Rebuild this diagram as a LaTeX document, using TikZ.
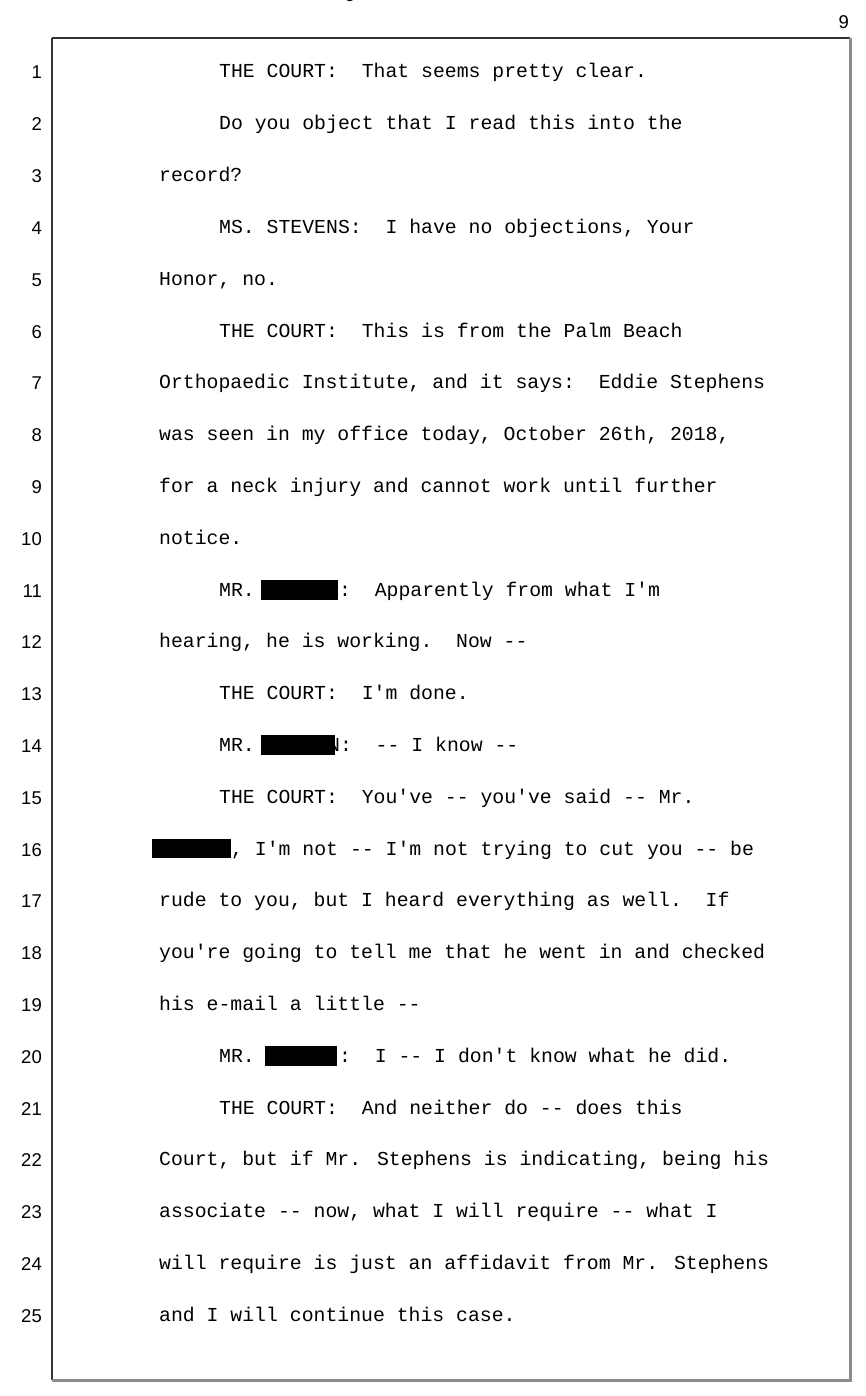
\documentclass[tikz,border=0pt]{standalone}
\usepackage{fontspec}
\setmainfont{Liberation Mono}[Ligatures=TeXOff]
\newfontfamily\numfont{Liberation Sans}[Ligatures=TeXOff]
\begin{document}
\begin{tikzpicture}[x=1pt,y=-1pt,
  tx/.style={anchor=base west,inner sep=0pt,font=\fontsize{19.8}{20}\selectfont},
  num/.style={anchor=base east,inner sep=0pt,font=\numfont\fontsize{18.5}{20}\selectfont},
  red/.style={fill=black,draw=none}]
\useasboundingbox (0,0) rectangle (866,1396);
\node[tx,anchor=base] (hdr) at (433,-2) {Judge Rosemarie Scher};
\node[num] (pg) at (849,29) {9};
\draw[line width=1.2pt,black!80] (52,38) -- (850,38);
\draw[line width=1.2pt,black!80] (52,38) -- (52,1380);
\draw[line width=3pt,black!45] (52,1380) -- (850,1380) -- (850,38);
\foreach \i in {1,...,25}{
  \node[num] (n\i) at (42,{72+51.8*(\i-1)+7}) {\i};
}
\def\L#1#2#3{\node[tx] (t#1) at (#2,{72+51.8*(#1-1)+6}) {#3};}
\L{1}{219}{THE COURT:\ \ That seems pretty clear.}
\L{2}{219}{Do you object that I read this into the}
\L{3}{159}{record?}
\L{4}{219}{MS. STEVENS:\ \ I have no objections, Your}
\L{5}{159}{Honor, no.}
\L{6}{219}{THE COURT:\ \ This is from the Palm Beach}
\L{7}{159}{Orthopaedic Institute, and it says:\ \ Eddie Stephens}
\L{8}{159}{was seen in my office today, October 26th, 2018,}
\L{9}{159}{for a neck injury and cannot work until further}
\L{10}{159}{notice.}
\L{11}{219}{MR.}
\node[tx] (t11b) at (339,{72+51.8*10+6}) {:\ \ Apparently from what I'm};
\L{12}{159}{hearing, he is working.\ \ Now --}
\L{13}{219}{THE COURT:\ \ I'm done.}
\L{14}{219}{MR.}
\node[tx] (t14b) at (328,{72+51.8*13+6}) {N:\ \ -- I know --};
\L{15}{219}{THE COURT:\ \ You've -- you've said -- Mr.}
\node[tx] (t16) at (231,{72+51.8*15+6}) {, I'm not -- I'm not trying to cut you -- be};
\L{17}{159}{rude to you, but I heard everything as well.\ \ If}
\L{18}{159}{you're going to tell me that he went in and checked}
\L{19}{159}{his e-mail a little --}
\L{20}{219}{MR.}
\node[tx] (t20b) at (339,{72+51.8*19+6}) {:\ \ I -- I don't know what he did.};
\L{21}{219}{THE COURT:\ \ And neither do -- does this}
\L{22}{159}{Court, but if Mr. Stephens is indicating, being his}
\L{23}{159}{associate -- now, what I will require -- what I}
\L{24}{159}{will require is just an affidavit from Mr. Stephens}
\L{25}{159}{and I will continue this case.}
\fill[red] (261,{72+51.8*10-10}) rectangle (338,{72+51.8*10+10});
\fill[red] (261,{72+51.8*13-10}) rectangle (335,{72+51.8*13+10});
\fill[red] (152,{72+51.8*15-10}) rectangle (231,{72+51.8*15+9});
\fill[red] (265,{72+51.8*19-10}) rectangle (337,{72+51.8*19+10});
\end{tikzpicture}
\end{document}
